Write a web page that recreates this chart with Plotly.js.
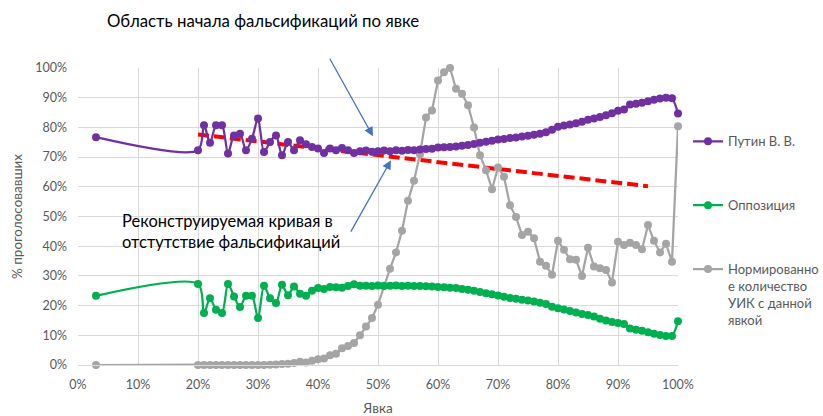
<!DOCTYPE html>
<html>
<head>
<meta charset="utf-8">
<script src="https://cdn.plot.ly/plotly-3.0.1.min.js"></script>
<style>
  html, body { margin: 0; padding: 0; background: #ffffff; }
  #chart { width: 823px; height: 416px; }
</style>
</head>
<body>
<div id="chart"></div>
<script>
// Turnout (Явка), %
const turnout = [3, 20, 21, 22, 23, 24, 25, 26, 27, 28, 29, 30, 31, 32, 33, 34, 35, 36, 37, 38, 39,
  40, 41, 42, 43, 44, 45, 46, 47, 48, 49, 50, 51, 52, 53, 54, 55, 56, 57, 58, 59,
  60, 61, 62, 63, 64, 65, 66, 67, 68, 69, 70, 71, 72, 73, 74, 75, 76, 77, 78, 79,
  80, 81, 82, 83, 84, 85, 86, 87, 88, 89, 90, 91, 92, 93, 94, 95, 96, 97, 98, 99, 100];

// Путин В. В., %
const putin = [76.7, 72.3, 80.7, 74.8, 80.7, 80.7, 71.2, 77.3, 77.9, 72.3, 76.2, 83.0, 71.7, 75.1, 77.3, 70.6, 75.1, 72.3, 75.7, 74.3, 73.4,
  72.9, 71.4, 72.9, 72.3, 73.1, 72.3, 71.4, 72.0, 72.2, 71.8, 72.0, 72.2, 72.0, 72.3, 72.1, 72.4, 72.3, 72.6, 72.7, 72.8,
  73.2, 73.3, 73.4, 73.6, 73.8, 74.1, 74.4, 74.8, 75.2, 75.5, 75.9, 76.1, 76.4, 76.6, 76.9, 77.2, 77.5, 77.9, 78.4, 79.2,
  80.2, 80.6, 81.0, 81.4, 81.9, 82.6, 83.0, 83.5, 84.1, 84.8, 85.6, 86.0, 87.7, 88.0, 88.3, 88.8, 89.3, 89.7, 90.0, 89.8, 84.7];

// Оппозиция, %
const opposition = [23.3, 27.3, 17.5, 22.5, 18.6, 17.5, 27.3, 23.1, 19.5, 23.3, 23.3, 15.8, 26.7, 22.5, 20.9, 27.0, 23.5, 26.4, 24.0, 23.3, 25.0,
  25.9, 25.6, 26.3, 26.2, 26.0, 26.6, 27.2, 26.7, 26.7, 26.6, 26.8, 26.6, 26.7, 26.8, 26.6, 26.7, 26.6, 26.6, 26.5, 26.4,
  26.3, 26.2, 26.0, 25.9, 25.6, 25.3, 25.0, 24.6, 24.2, 23.8, 23.4, 23.0, 22.6, 22.3, 22.0, 21.7, 21.4, 21.0, 20.5, 19.6,
  19.1, 18.7, 18.2, 17.7, 17.2, 16.8, 16.3, 15.6, 15.0, 14.5, 14.1, 13.8, 12.3, 11.9, 11.5, 11.0, 10.5, 10.1, 9.8, 9.8, 14.7];

// Нормированное количество УИК с данной явкой, %
const stations = [0, 0, 0, 0, 0, 0, 0, 0, 0, 0, 0, 0, 0, 0.1, 0.2, 0.3, 0.4, 0.7, 1.1, 0.8, 1.4,
  1.9, 2.2, 3.3, 3.8, 5.6, 6.4, 7.4, 10.0, 13.0, 15.8, 20.3, 26.7, 32.4, 37.9, 45.2, 55.3, 62.0, 71.0, 83.3, 85.7,
  95.8, 98.6, 100, 93.0, 91.3, 87.5, 80.0, 70.6, 65.6, 59.2, 66.5, 63.4, 53.8, 49.8, 43.8, 44.9, 42.7, 34.8, 33.4, 30.4,
  41.8, 38.8, 35.6, 35.4, 30.0, 39.5, 33.2, 32.6, 32.0, 27.8, 41.5, 40.4, 41.2, 40.4, 39.0, 47.1, 41.8, 37.9, 40.8, 34.8, 80.4];

// Reconstructed curve without falsification (dashed red)
const reconX = [20, 95];
const reconY = [77.6, 60.2];

const seriesNames = ["Путин В. В.", "Оппозиция", "Нормированно<br>е количество<br>УИК с данной<br>явкой"];
const yTicks = [0, 10, 20, 30, 40, 50, 60, 70, 80, 90, 100];
const xTicks = [0, 10, 20, 30, 40, 50, 60, 70, 80, 90, 100];

const FONT = "Lato, 'Open Sans', 'DejaVu Sans', sans-serif";

const traces = [
  {
    x: reconX, y: reconY, type: "scatter", mode: "lines", showlegend: false, hoverinfo: "skip",
    line: { color: "#FF0000", width: 4, dash: "11px,5px" }
  },
  {
    x: turnout, y: stations, type: "scatter", mode: "lines+markers", name: seriesNames[2], legendgroup: "c", legendrank: 3,
    cliponaxis: false,
    line: { color: "#A5A5A5", width: 2.25 },
    marker: { color: "#A5A5A5", size: 8 }
  },
  {
    x: turnout, y: opposition, type: "scatter", mode: "lines+markers", name: seriesNames[1], legendgroup: "b", legendrank: 2,
    cliponaxis: false,
    line: { color: "#00B050", width: 2.25, shape: "spline", smoothing: 0.8 },
    marker: { color: "#00B050", size: 8 }
  },
  {
    x: turnout, y: putin, type: "scatter", mode: "lines+markers", name: seriesNames[0], legendgroup: "a", legendrank: 1,
    cliponaxis: false,
    line: { color: "#7030A0", width: 2.25, shape: "spline", smoothing: 0.8 },
    marker: { color: "#7030A0", size: 8 }
  }
];

const W = 823, H = 416, L = 78, R = 145, T = 67.5, B = 50.5;
const pw = W - L - R, ph = H - T - B;
const px = v => (v - L) / pw;
const py = v => (H - B - v) / ph;

const layout = {
  width: W, height: H,
  margin: { l: L, r: R, t: T, b: B, pad: 0, autoexpand: false },
  paper_bgcolor: "#ffffff", plot_bgcolor: "#ffffff",
  font: { family: FONT, size: 12, color: "#595959" },
  showlegend: true,
  legend: {
    x: px(688), xanchor: "left", y: py(126), yanchor: "top",
    traceorder: "grouped", tracegroupgap: 44, valign: "top",
    font: { family: FONT, size: 13, color: "#595959" },
    bgcolor: "rgba(0,0,0,0)"
  },
  xaxis: {
    range: [0, 100], tickvals: xTicks, ticktext: xTicks.map(v => v + "%"),
    showgrid: true, gridcolor: "#D9D9D9", gridwidth: 1, zeroline: false,
    showline: true, linecolor: "#D9D9D9", linewidth: 1, ticks: "",
    ticklabelstandoff: 8, automargin: false,
    tickfont: { family: FONT, size: 12.5, color: "#595959" },
    title: { text: "Явка", font: { family: FONT, size: 13.5, color: "#595959" }, standoff: 12 }
  },
  yaxis: {
    range: [0, 100], tickvals: yTicks, ticktext: yTicks.map(v => v + "%"),
    showgrid: true, gridcolor: "#D9D9D9", gridwidth: 1, zeroline: false,
    showline: false, ticks: "", ticklabelstandoff: 10, automargin: false,
    tickfont: { family: FONT, size: 12.5, color: "#595959" },
    title: { text: "% проголосовавших", font: { family: FONT, size: 13.5, color: "#595959" }, standoff: 9 }
  },
  annotations: [
    {
      xref: "paper", yref: "paper", x: px(263), y: py(20), xanchor: "center", yanchor: "middle",
      text: "Область начала фальсификаций по явке", showarrow: false,
      font: { family: FONT, size: 16.8, color: "#000000" }
    },
    {
      xref: "paper", yref: "paper", x: px(120), y: py(232), xanchor: "left", yanchor: "middle", align: "left",
      text: "Реконструируемая кривая в<br>отстутствие фальсификаций", showarrow: false,
      font: { family: FONT, size: 16.5, color: "#000000" }
    },
    {
      xref: "paper", yref: "paper", x: px(373), y: py(136), text: "", showarrow: true,
      ax: -44, ay: -79, arrowhead: 2, arrowsize: 1.4, arrowwidth: 1.3, arrowcolor: "#4472C4"
    },
    {
      xref: "paper", yref: "paper", x: px(391), y: py(160), text: "", showarrow: true,
      ax: -41, ay: 73, arrowhead: 2, arrowsize: 1.4, arrowwidth: 1.3, arrowcolor: "#4472C4"
    }
  ]
};

Plotly.newPlot("chart", traces, layout, { displayModeBar: false, staticPlot: true });
</script>
</body>
</html>
